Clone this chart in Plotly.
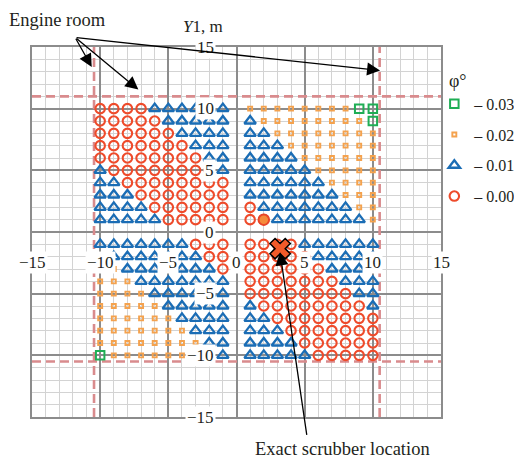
import plotly.graph_objects as go

# Grid of computed trim-angle categories (phi, degrees) around the scrubber.
# Rows run from Y1 = 10 down to Y1 = -10 (the Y1 = 0 row is empty);
# the left block covers Y2 = -10..-1, the right block Y2 = 1..10.
# o: 0.00, t: 0.01, s: 0.02, g: 0.03  (spaces only separate runs)
Y1_ROWS = [10, 9, 8, 7, 6, 5, 4, 3, 2, 1, -1, -2, -3, -4, -5, -6, -7, -8, -9, -10]
Y2_LEFT = [-10, -9, -8, -7, -6, -5, -4, -3, -2, -1]
Y2_RIGHT = [1, 2, 3, 4, 5, 6, 7, 8, 9, 10]

ROWS_LEFT = [
    "oooo tttttt",
    "ooooo ttttt",
    "oooooo tttt",
    "ooooooo ttt",
    "oooooooo tt",
    "t oooooooo t",
    "tt oooooooo",
    "ttt ooooooo",
    "tttt oooooo",
    "ttttt ooooo",
    "ttttttt ooo",
    "s ttttttt oo",
    "ss ttttttt o",
    "sss ttttttt",
    "ssss tttttt",
    "sssss ttttt",
    "ssssss tttt",
    "sssssss ttt",
    "ssssssss tt",
    "g ssssssss t",
]
ROWS_RIGHT = [
    "ssssssss gg",
    "t ssssssss g",
    "tt ssssssss",
    "ttt sssssss",
    "tttt ssssss",
    "ttttt sssss",
    "tttttt ssss",
    "ttttttt sss",
    "o ttttttt ss",
    "oo ttttttt s",
    "oooo tttttt",
    "ooooo ttttt",
    "oooooo tttt",
    "ooooooo ttt",
    "oooooooo tt",
    "t oooooooo t",
    "tt oooooooo",
    "ttt ooooooo",
    "tttt oooooo",
    "ttttt ooooo",
]

PHI_LABELS = {"g": "\u2013 0.03", "s": "\u2013 0.02", "t": "\u2013 0.01", "o": "\u2013 0.00"}

# Highlighted grid node and the exact scrubber position (Y2, Y1)
HIGHLIGHT_POINT = (2, 1)
SCRUBBER_POS = (3.2, -1.35)

# Engine room boundary (dashed)
ENGINE_ROOM_Y2 = [-10.45, 10.5]
ENGINE_ROOM_Y1 = [-10.5, 11.0]

AXIS_RANGE = [-15, 15]
TICK_VALUES = [-15, -10, -5, 0, 5, 10, 15]
TICK_LABELS = ["\u221215", "\u221210", "\u22125", "0", "5", "10", "15"]

FONT = "Liberation Serif"
TEXT_COLOR = "#231f20"

# Collect the points of every phi category
points = {k: ([], []) for k in "gsto"}
for y1, left, right in zip(Y1_ROWS, ROWS_LEFT, ROWS_RIGHT):
    left = left.replace(" ", "")
    right = right.replace(" ", "")
    assert len(left) == len(Y2_LEFT) and len(right) == len(Y2_RIGHT)
    for y2, code in zip(Y2_LEFT + Y2_RIGHT, left + right):
        points[code][0].append(y2)
        points[code][1].append(y1)

styles = {
    "g": dict(symbol="square-open", size=8.5, color="#1fae55", line=dict(width=2, color="#1fae55")),
    "s": dict(symbol="square-open", size=4, color="#f4a24e", line=dict(width=1.9, color="#f4a24e")),
    "t": dict(symbol="triangle-up-open", size=10, color="#1b6db5", line=dict(width=2.3, color="#1b6db5")),
    "o": dict(symbol="circle-open", size=9.5, color="#ee4b2b", line=dict(width=2.1, color="#ee4b2b")),
}

fig = go.Figure()

# Engine room boundary lines
dash_style = dict(color="#d98b8d", width=2.6, dash="9px,5px")
for y2 in ENGINE_ROOM_Y2:
    fig.add_trace(go.Scatter(x=[y2, y2], y=AXIS_RANGE, mode="lines", line=dash_style,
                             showlegend=False, hoverinfo="skip"))
for y1 in ENGINE_ROOM_Y1:
    fig.add_trace(go.Scatter(x=AXIS_RANGE, y=[y1, y1], mode="lines", line=dash_style,
                             showlegend=False, hoverinfo="skip"))

for i, code in enumerate("gsto"):
    xs, ys = points[code]
    fig.add_trace(go.Scatter(
        x=xs, y=ys, mode="markers", name=PHI_LABELS[code],
        marker=styles[code], legendgroup=code, legendrank=i + 1,
    ))

fig.add_trace(go.Scatter(
    x=[HIGHLIGHT_POINT[0]], y=[HIGHLIGHT_POINT[1]], mode="markers", showlegend=False,
    marker=dict(symbol="circle", size=10.5, color="#f58b3a", line=dict(width=2, color="#e8462a")),
))
fig.add_trace(go.Scatter(
    x=[SCRUBBER_POS[0]], y=[SCRUBBER_POS[1]], mode="markers", showlegend=False,
    marker=dict(symbol="x", size=18, color="#f15a29", line=dict(width=1.5, color="black")),
))

annotations = []
# Tick labels on boxes along the axes through the origin
for v, t in zip(TICK_VALUES, TICK_LABELS):
    annotations.append(dict(x=v, y=0, xref="x", yref="y", text=t, showarrow=False,
                            yshift=-30, bgcolor="white", borderpad=1,
                            font=dict(family=FONT, size=17, color=TEXT_COLOR)))
    annotations.append(dict(x=0, y=v, xref="x", yref="y", text=t, showarrow=False,
                            xanchor="right", xshift=-21, bgcolor="white", borderpad=1,
                            font=dict(family=FONT, size=17, color=TEXT_COLOR)))

annotations += [
    dict(x=-2.45, y=1.055, xref="x", yref="paper", text="<i>Y</i>1, m", showarrow=False,
         yanchor="middle", font=dict(family=FONT, size=17, color=TEXT_COLOR)),
    dict(x=15.9, y=0, xref="x", yref="y", text="<i>Y</i>2, m", showarrow=False,
         xanchor="left", yshift=-30, font=dict(family=FONT, size=17, color=TEXT_COLOR)),
    dict(x=-13.1, y=1.073, xref="x", yref="paper", text="Engine room", showarrow=False,
         yanchor="middle", font=dict(family=FONT, size=18.5, color=TEXT_COLOR)),
    dict(x=7.75, y=-0.087, xref="x", yref="paper", text="Exact scrubber location", showarrow=False,
         yanchor="middle", font=dict(family=FONT, size=18.5, color=TEXT_COLOR)),
]

arrow = dict(showarrow=True, arrowhead=2, arrowsize=2.0, arrowwidth=1.3, arrowcolor="black",
             text="", axref="pixel", ayref="pixel", xref="x", yref="y", standoff=0)
annotations += [
    dict(arrow, x=-10.62, y=13.38, ax=-16.7, ay=-29.7),
    dict(arrow, x=-7.2, y=11.55, ax=-63.3, ay=-52.3),
    dict(arrow, x=10.53, y=13.1, ax=-305, ay=-33),
    dict(arrow, x=3.19, y=-1.65, ax=27, ay=184),
]

axis_common = dict(
    range=AXIS_RANGE, tick0=0, dtick=5, showgrid=True, gridcolor="#8c8c8c", gridwidth=2,
    minor=dict(dtick=1, showgrid=True, gridcolor="#d3d3d3", gridwidth=1.4),
    showticklabels=False, ticks="", zeroline=False,
    showline=True, linecolor="#8c8c8c", linewidth=2, mirror=True, fixedrange=True,
)

fig.update_layout(
    width=514, height=459,
    margin=dict(l=32, r=73, t=47, b=42, autoexpand=False),
    paper_bgcolor="white", plot_bgcolor="white",
    xaxis=axis_common, yaxis=axis_common,
    annotations=annotations,
    font=dict(family=FONT, size=17, color=TEXT_COLOR),
    legend=dict(
        title=dict(text="\u2002\u2009\u03c6\u00b0", font=dict(family=FONT, size=18)),
        xref="container", yref="container",
        x=0.845, y=0.862, xanchor="left", yanchor="top",
        bgcolor="rgba(0,0,0,0)", tracegroupgap=7,
        font=dict(family=FONT, size=16, color=TEXT_COLOR),
    ),
)

fig.write_html("out.html")
